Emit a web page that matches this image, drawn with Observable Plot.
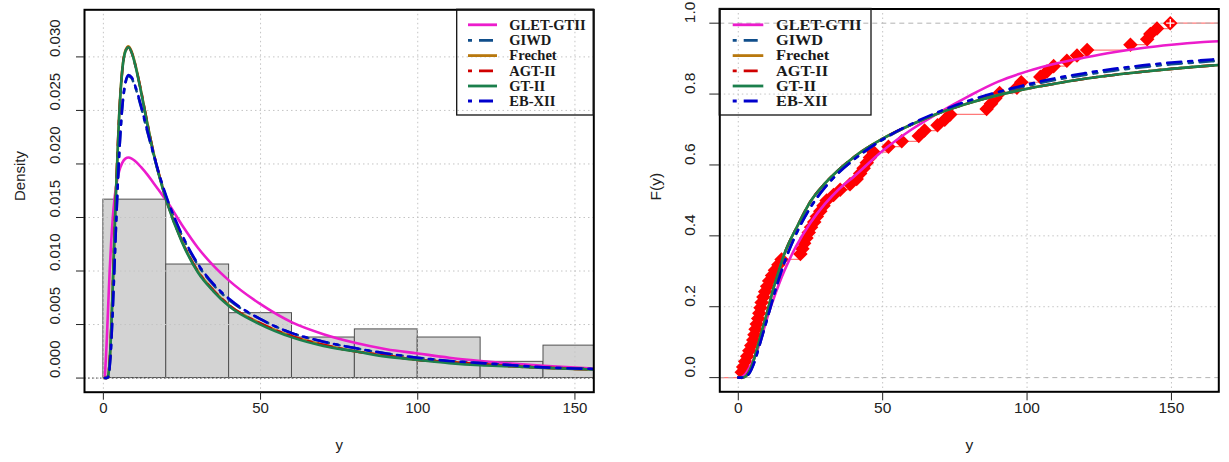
<!DOCTYPE html>
<html><head><meta charset="utf-8">
<script src="https://cdn.jsdelivr.net/npm/d3@7"></script>
<script src="https://cdn.jsdelivr.net/npm/@observablehq/plot@0.6"></script>
<style>
body{margin:0;background:#fff;}
#wrap{position:relative;width:1229px;height:462px;overflow:hidden;background:#fff;}
#left{position:absolute;left:0;top:0;}
#right{position:absolute;left:614px;top:0;}
</style></head><body>
<div id="wrap"><div id="left"></div><div id="right"></div></div>
<script>
// ---- data ----
const sample = [
  1.2, 1.7, 2.4, 3.1, 3.8, 4.5, 5.2, 5.6, 6.0, 6.4, 6.9, 7.3, 7.7, 8.1, 8.7, 9.3, 10.0, 10.7, 11.7, 12.7, 13.9, 15.0,
  21.5, 22.2, 22.8, 23.6, 24.4, 25.2, 26.3, 27.2, 28.4, 29.5, 30.6, 33.0, 35.3, 38.7,
  41.0, 42.2, 43.4, 44.5, 45.6, 46.8, 52.0, 56.6,
  62.5, 64.5, 69.0, 71.5, 73.4,
  86.0, 87.5, 89.0, 90.5, 96.5, 98.0,
  104.6, 106.9, 109.2, 113.8, 117.3,
  120.8, 135.8,
  141.6, 142.7, 145.0, 149.6];
const histBreaks = [0, 20, 40, 60, 80, 100, 120, 140, 160];

const densityX = [0.5, 1, 1.5, 2, 2.5, 3, 3.5, 4, 5, 6, 7, 8, 9, 10, 12, 14, 16, 18, 20, 25, 30, 35, 40, 50, 60, 70, 80, 90, 100, 110, 120, 130, 140, 150, 156];
const densGLET = [0.0002, 0.003, 0.0065, 0.0100, 0.0128, 0.0150, 0.0166, 0.0178, 0.0193, 0.0201, 0.0205, 0.0206, 0.0205, 0.0203, 0.0197, 0.0190, 0.0182, 0.0174, 0.0166, 0.0143, 0.0122, 0.0105, 0.0091, 0.0069, 0.0052, 0.0041, 0.0033, 0.0027, 0.0023, 0.0019, 0.0016, 0.00135, 0.00115, 0.00098, 0.0009];
const densGIWD = [0, 0, 0.0001, 0.0011, 0.0033, 0.0066, 0.0103, 0.0141, 0.0207, 0.0252, 0.0275, 0.0282, 0.0280, 0.0273, 0.0253, 0.0230, 0.0208, 0.0187, 0.0169, 0.0133, 0.0106, 0.0087, 0.0073, 0.0055, 0.0042, 0.0034, 0.0028, 0.0023, 0.0019, 0.0016, 0.0014, 0.0012, 0.0010, 0.0009, 0.00085];
const densFrechet = [0, 0, 0.0002, 0.0016, 0.0046, 0.0087, 0.0132, 0.0174, 0.0245, 0.0288, 0.0306, 0.0310, 0.0305, 0.0295, 0.0268, 0.0238, 0.0210, 0.0187, 0.0167, 0.0128, 0.0100, 0.0082, 0.0068, 0.0051, 0.0039, 0.0031, 0.0025, 0.0021, 0.0017, 0.0015, 0.0013, 0.0011, 0.00097, 0.00086, 0.0008];
const densAGT = [0, 0, 0.0002, 0.0015, 0.0045, 0.0085, 0.0130, 0.0172, 0.0243, 0.0287, 0.0305, 0.0309, 0.0304, 0.0294, 0.0268, 0.0238, 0.0210, 0.0187, 0.0167, 0.0128, 0.0100, 0.0082, 0.0068, 0.0051, 0.0039, 0.0031, 0.0025, 0.0021, 0.0017, 0.0015, 0.0013, 0.0011, 0.00097, 0.00086, 0.0008];
const densGT = [0, 0, 0.0002, 0.0015, 0.0045, 0.0085, 0.0130, 0.0172, 0.0243, 0.0287, 0.0305, 0.0309, 0.0304, 0.0294, 0.0267, 0.0237, 0.0209, 0.0186, 0.0166, 0.0127, 0.0099, 0.0081, 0.0067, 0.0050, 0.0038, 0.0030, 0.0025, 0.0020, 0.0017, 0.0014, 0.0012, 0.0011, 0.00095, 0.00085, 0.0008];
const densEB = [0, 0, 0.0001, 0.0010, 0.0032, 0.0065, 0.0102, 0.0140, 0.0207, 0.0253, 0.0276, 0.0283, 0.0281, 0.0274, 0.0254, 0.0231, 0.0209, 0.0188, 0.0170, 0.0134, 0.0107, 0.0088, 0.0074, 0.0055, 0.0042, 0.0034, 0.0028, 0.0023, 0.0019, 0.0016, 0.0014, 0.0012, 0.0010, 0.0009, 0.00085];

const cdfX = [0, 1, 2, 3, 4, 5, 6, 7, 8, 9, 10, 12, 14, 16, 18, 20, 25, 30, 35, 40, 50, 60, 70, 80, 90, 100, 110, 120, 130, 140, 150, 160, 166.4];
const cdfGLET = [0, 0.001, 0.006, 0.016, 0.030, 0.046, 0.064, 0.087, 0.112, 0.140, 0.168, 0.217, 0.262, 0.302, 0.338, 0.370, 0.437, 0.490, 0.533, 0.567, 0.640, 0.700, 0.750, 0.795, 0.835, 0.864, 0.886, 0.903, 0.918, 0.930, 0.939, 0.946, 0.949];
const cdfGIWD = [0, 0, 0.001, 0.005, 0.015, 0.032, 0.055, 0.082, 0.110, 0.138, 0.166, 0.224, 0.278, 0.326, 0.368, 0.405, 0.481, 0.537, 0.580, 0.615, 0.671, 0.714, 0.750, 0.779, 0.803, 0.823, 0.840, 0.854, 0.866, 0.876, 0.884, 0.890, 0.894];
const cdfFrechet = [0, 0, 0.001, 0.007, 0.021, 0.041, 0.068, 0.097, 0.127, 0.156, 0.184, 0.247, 0.300, 0.350, 0.388, 0.420, 0.497, 0.548, 0.588, 0.622, 0.674, 0.714, 0.748, 0.775, 0.797, 0.815, 0.830, 0.843, 0.854, 0.863, 0.871, 0.878, 0.882];
const cdfAGT = [0, 0, 0.001, 0.007, 0.020, 0.040, 0.067, 0.096, 0.126, 0.155, 0.183, 0.247, 0.300, 0.350, 0.388, 0.420, 0.497, 0.548, 0.588, 0.622, 0.674, 0.714, 0.748, 0.775, 0.797, 0.815, 0.830, 0.843, 0.854, 0.863, 0.871, 0.878, 0.882];
const cdfGT = [0, 0, 0.001, 0.007, 0.020, 0.040, 0.067, 0.096, 0.126, 0.155, 0.183, 0.247, 0.300, 0.350, 0.388, 0.420, 0.497, 0.548, 0.588, 0.622, 0.674, 0.714, 0.748, 0.775, 0.797, 0.815, 0.830, 0.843, 0.854, 0.863, 0.871, 0.878, 0.882];
const cdfEB = [0, 0, 0.001, 0.005, 0.014, 0.031, 0.054, 0.081, 0.109, 0.137, 0.165, 0.223, 0.277, 0.325, 0.367, 0.404, 0.480, 0.536, 0.580, 0.615, 0.672, 0.716, 0.752, 0.782, 0.806, 0.827, 0.845, 0.859, 0.871, 0.881, 0.889, 0.895, 0.899];

const modelNames = ["GLET-GTII", "GIWD", "Frechet", "AGT-II", "GT-II", "EB-XII"];
const leftXTicks = [0, 50, 100, 150];
const leftYTicks = [0, 0.005, 0.010, 0.015, 0.020, 0.025, 0.030];
const rightXTicks = [0, 50, 100, 150];
const rightYTicks = [0, 0.2, 0.4, 0.6, 0.8, 1.0];

// ---- styles ----
const modelColors = ["#ec1ccc", "#104e8b", "#b8780e", "#d00000", "#1b7f4c", "#0000cd"];
const modelDash = [null, "4,7,14,7", null, "4,7,14,7", null, "4,7,14,7"];
const densArrays = [densGLET, densGIWD, densFrechet, densAGT, densGT, densEB];
const cdfArrays = [cdfGLET, cdfGIWD, cdfFrechet, cdfAGT, cdfGT, cdfEB];

const models = modelNames.map((name, i) => ({
  name, color: modelColors[i], dash: modelDash[i],
  dens: densityX.map((x, j) => ({x, y: densArrays[i][j]})),
  cdf: cdfX.map((x, j) => ({x, y: cdfArrays[i][j]}))
}));

const FONT = "'Liberation Sans', Arial, Helvetica, sans-serif";
const gridStyle = {stroke: "#c4c4c4", strokeOpacity: 1, strokeWidth: 1, strokeDasharray: "1.5,3"};

// ---- left: histogram + densities ----
const bins = d3.bin().domain([histBreaks[0], histBreaks[histBreaks.length - 1]])
  .thresholds(histBreaks.slice(1, -1))(sample)
  .map(b => ({x0: b.x0, x1: b.x1, density: b.length / (sample.length * (b.x1 - b.x0))}));

const curveMarks = (key) => models.map(m => Plot.line(m[key], {
  x: "x", y: "y", stroke: m.color, strokeWidth: 2.6,
  strokeDasharray: m.dash || undefined, curve: "monotone-x", clip: true
}));

const left = Plot.plot({
  width: 614, height: 462,
  marginLeft: 84, marginRight: 20.7, marginTop: 9.3, marginBottom: 70.3,
  style: {fontFamily: FONT, fontSize: "15px", color: "#222", background: "transparent"},
  x: {domain: [-6, 156]},
  y: {domain: [-0.00132, 0.0344]},
  marks: [
    Plot.rectY(bins, {x1: "x0", x2: "x1", y: "density", fill: "#d3d3d3", stroke: "#505050", strokeWidth: 1, clip: true}),
    Plot.gridX(leftXTicks, gridStyle),
    Plot.gridY(leftYTicks, gridStyle),
    Plot.ruleY([0], {stroke: "#444", strokeWidth: 1, strokeDasharray: "1.5,2.5"}),
    ...curveMarks("dens"),
    Plot.frame({stroke: "#000", strokeWidth: 2}),
    Plot.axisX(leftXTicks, {tickSize: 8, tickFormat: () => "", label: null, stroke: "#222"}),
    Plot.axisY(leftYTicks, {tickSize: 8, tickFormat: () => "", label: null, stroke: "#222"}),
    Plot.text(leftXTicks, {x: d => d, text: d => String(d), frameAnchor: "bottom", dy: 21, fontSize: 15, fill: "#222"}),
    Plot.text(leftYTicks, {y: d => d, text: d => d3.format(".3f")(d), frameAnchor: "left", dx: -29, rotate: -90, fontSize: 15, fill: "#222"}),
    Plot.text(["y"], {text: d => d, frameAnchor: "bottom", dy: 58, fontSize: 15, fill: "#222"}),
    Plot.text(["Density"], {text: d => d, frameAnchor: "left", dx: -64, rotate: -90, fontSize: 15, fill: "#222"})
  ]
});
document.getElementById("left").appendChild(left);

// ---- right: ECDF + CDFs ----
const xs = sample.slice().sort((a, b) => a - b);
const n = xs.length;
const rDomX = [-6.4, 166.4];
const steps = d3.range(n + 1).map(i => ({
  x1: i === 0 ? rDomX[0] : xs[i - 1],
  x2: i === n ? rDomX[1] : xs[i],
  F: i / n
}));
const pts = xs.map((x, i) => ({x, F: (i + 1) / n}));
const diamond = {
  draw(ctx, size) {
    const r = Math.sqrt(size / 2);
    ctx.moveTo(0, -r); ctx.lineTo(r, 0); ctx.lineTo(0, r); ctx.lineTo(-r, 0); ctx.closePath();
  }
};

const right = Plot.plot({
  width: 615, height: 462,
  marginLeft: 105.3, marginRight: 10.7, marginTop: 8.5, marginBottom: 70.7,
  style: {fontFamily: FONT, fontSize: "15px", color: "#222", background: "transparent"},
  x: {domain: rDomX},
  y: {domain: [-0.04, 1.04]},
  marks: [
    Plot.gridX(rightXTicks, gridStyle),
    Plot.gridY([0.2, 0.4, 0.6, 0.8], gridStyle),
    Plot.ruleY(steps, {y: "F", x1: "x1", x2: "x2", stroke: "#ff2020", strokeOpacity: 0.6, strokeWidth: 1.2, clip: true}),
    Plot.ruleY([0, 1], {stroke: "#b3b3b3", strokeWidth: 1, strokeDasharray: "5,4"}),
    Plot.dot(pts, {x: "x", y: "F", symbol: diamond, r: 5.8, fill: "#ff0000", stroke: "none"}),
    Plot.dot(pts.slice(-1), {x: "x", y: "F", symbol: "plus", r: 2.8, stroke: "#fff", strokeWidth: 1.3}),
    ...curveMarks("cdf"),
    Plot.frame({stroke: "#000", strokeWidth: 2}),
    Plot.axisX(rightXTicks, {tickSize: 9, tickFormat: () => "", label: null, stroke: "#222"}),
    Plot.axisY(rightYTicks, {tickSize: 10, tickFormat: () => "", label: null, stroke: "#222"}),
    Plot.text(rightXTicks, {x: d => d, text: d => String(d), frameAnchor: "bottom", dy: 21, fontSize: 15.5, fill: "#222"}),
    Plot.text(rightYTicks, {y: d => d, text: d => d3.format(".1f")(d), frameAnchor: "left", dx: -30, rotate: -90, fontSize: 15.5, fill: "#222"}),
    Plot.text(["y"], {text: d => d, frameAnchor: "bottom", dy: 58, fontSize: 15.5, fill: "#222"}),
    Plot.text(["F(y)"], {text: d => d, frameAnchor: "left", dx: -64, rotate: -90, fontSize: 15.5, fill: "#222"})
  ]
});
document.getElementById("right").appendChild(right);

// ---- legends (inside the panels, R style) ----
function drawLegend(svgEl, box, lineX0, lineX1, textX, rowsY, sx) {
  const g = d3.select(svgEl).append("g").attr("text-anchor", "start");
  g.append("rect").attr("x", box.x0).attr("y", box.y0)
    .attr("width", box.x1 - box.x0).attr("height", box.y1 - box.y0)
    .attr("fill", "none").attr("stroke", "#111").attr("stroke-width", 1.3);
  models.forEach((m, i) => {
    const y = rowsY[i];
    const ln = g.append("line").attr("x1", lineX0).attr("x2", lineX1).attr("y1", y).attr("y2", y)
      .attr("stroke", m.color).attr("stroke-width", 2.8);
    if (m.dash) ln.attr("stroke-dasharray", m.dash);
    g.append("text").attr("transform", `translate(${textX},${y}) scale(${sx},1)`)
      .attr("dy", "0.35em").attr("text-anchor", "start")
      .attr("font-family", "'Liberation Serif', 'Times New Roman', serif")
      .attr("font-weight", "bold").attr("font-size", 13.6).attr("fill", "#1a1a1a")
      .text(m.name);
  });
}
const rowsY = [24.8, 40.3, 55.6, 70.8, 86, 101];
drawLegend(left, {x0: 456.7, x1: 593.3, y0: 9.3, y1: 115}, 468, 497, 509.3, rowsY, 1.07);
drawLegend(right, {x0: 105.3, x1: 257, y0: 8.5, y1: 115}, 118.7, 149.3, 162, rowsY, 1.2);
</script>
</body></html>
